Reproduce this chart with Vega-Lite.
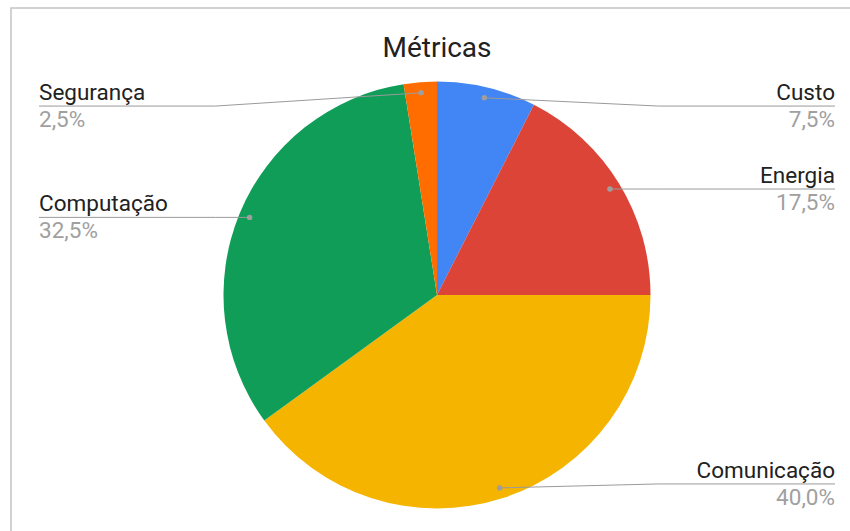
{
  "$schema": "https://vega.github.io/schema/vega-lite/v6.json",
  "width": 852,
  "height": 574,
  "autosize": {"type": "none"},
  "padding": {"left": 11, "top": 8, "right": 0, "bottom": 0},
  "background": "white",
  "config": {
    "view": {"stroke": "#c4c4c4", "strokeWidth": 1.5},
    "font": "Roboto"
  },
  "title": {
    "text": "Métricas",
    "font": "Roboto",
    "fontSize": 28,
    "fontWeight": "normal",
    "color": "#212121",
    "anchor": "middle",
    "baseline": "alphabetic",
    "offset": -77
  },
  "data": {
    "values": [
      {"categoria": "Custo", "valor": 7.5},
      {"categoria": "Energia", "valor": 17.5},
      {"categoria": "Comunicação", "valor": 40.0},
      {"categoria": "Computação", "valor": 32.5},
      {"categoria": "Segurança", "valor": 2.5}
    ]
  },
  "transform": [
    {"joinaggregate": [{"op": "sum", "field": "valor", "as": "total"}]},
    {"window": [{"op": "sum", "field": "valor", "as": "cum"}], "frame": [null, 0]},
    {"calculate": "(datum.cum - datum.valor) / datum.total", "as": "f0"},
    {"calculate": "datum.cum / datum.total", "as": "f1"},
    {"calculate": "(datum.cum - datum.valor / 2) / datum.total", "as": "fm"},
    {"calculate": "2 * PI * datum.fm", "as": "ang"},
    {"calculate": "datum.fm < 0.5 ? 1 : -1", "as": "side"},
    {"calculate": "0.95 * sin(datum.ang)", "as": "dx"},
    {"calculate": "0.95 * cos(datum.ang)", "as": "dy"},
    {"calculate": "clamp(datum.dy, -0.885, 0.885)", "as": "ly"},
    {"calculate": "datum.side * 1.037", "as": "kx"},
    {"calculate": "datum.side * 1.864", "as": "lx"},
    {"calculate": "replace(format(100 * datum.valor / datum.total, '.1f'), '.', ',') + '%'", "as": "pct"}
  ],
  "layer": [
    {
      "mark": {"type": "arc", "outerRadius": 213.5},
      "encoding": {
        "theta": {"field": "f0", "type": "quantitative", "scale": {"domain": [0, 1]}},
        "theta2": {"field": "f1"},
        "color": {
          "field": "categoria",
          "type": "nominal",
          "scale": {
            "domain": ["Custo", "Energia", "Comunicação", "Computação", "Segurança"],
            "range": ["#4285F4", "#DB4437", "#F4B400", "#0F9D58", "#FF6D00"]
          },
          "legend": null
        }
      }
    },
    {
      "mark": {"type": "rule", "color": "#9a9a9a", "strokeWidth": 1},
      "encoding": {
        "x": {"field": "dx", "type": "quantitative", "scale": {"domain": [-1.9953, 1.9953], "nice": false, "zero": false}, "axis": null},
        "y": {"field": "dy", "type": "quantitative", "scale": {"domain": [-1.3443, 1.3443], "nice": false, "zero": false}, "axis": null},
        "x2": {"field": "kx"},
        "y2": {"field": "ly"}
      }
    },
    {
      "mark": {"type": "rule", "color": "#9a9a9a", "strokeWidth": 1},
      "encoding": {
        "x": {"field": "kx", "type": "quantitative"},
        "y": {"field": "ly", "type": "quantitative"},
        "x2": {"field": "lx"},
        "y2": {"field": "ly"}
      }
    },
    {
      "mark": {"type": "point", "filled": true, "color": "#9e9e9e", "size": 30, "opacity": 1},
      "encoding": {
        "x": {"field": "dx", "type": "quantitative"},
        "y": {"field": "dy", "type": "quantitative"}
      }
    },
    {
      "transform": [{"filter": "datum.side > 0"}],
      "mark": {"type": "text", "align": "right", "baseline": "alphabetic", "dy": -6, "font": "Roboto", "fontSize": 22.5, "color": "#212121"},
      "encoding": {
        "x": {"field": "lx", "type": "quantitative"},
        "y": {"field": "ly", "type": "quantitative"},
        "text": {"field": "categoria"}
      }
    },
    {
      "transform": [{"filter": "datum.side < 0"}],
      "mark": {"type": "text", "align": "left", "baseline": "alphabetic", "dy": -6, "font": "Roboto", "fontSize": 22.5, "color": "#212121"},
      "encoding": {
        "x": {"field": "lx", "type": "quantitative"},
        "y": {"field": "ly", "type": "quantitative"},
        "text": {"field": "categoria"}
      }
    },
    {
      "transform": [{"filter": "datum.side > 0"}],
      "mark": {"type": "text", "align": "right", "baseline": "alphabetic", "dy": 21, "font": "Roboto", "fontSize": 22.5, "color": "#a0a0a0"},
      "encoding": {
        "x": {"field": "lx", "type": "quantitative"},
        "y": {"field": "ly", "type": "quantitative"},
        "text": {"field": "pct"}
      }
    },
    {
      "transform": [{"filter": "datum.side < 0"}],
      "mark": {"type": "text", "align": "left", "baseline": "alphabetic", "dy": 21, "font": "Roboto", "fontSize": 22.5, "color": "#a0a0a0"},
      "encoding": {
        "x": {"field": "lx", "type": "quantitative"},
        "y": {"field": "ly", "type": "quantitative"},
        "text": {"field": "pct"}
      }
    }
  ]
}
